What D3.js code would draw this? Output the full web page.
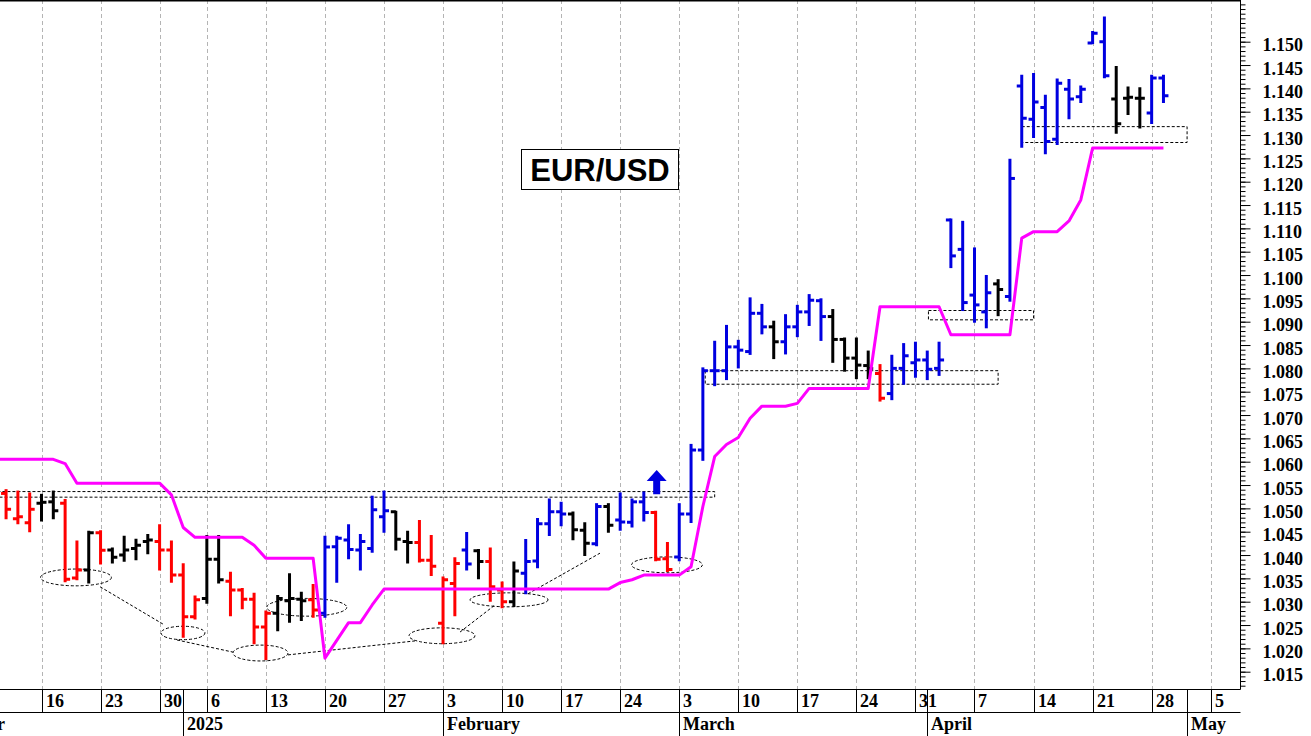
<!DOCTYPE html>
<html>
<head>
<meta charset="utf-8">
<style>
body { margin: 0; background: #fff; }
#chart { width: 1311px; height: 736px; }
</style>
<script src="https://cdnjs.cloudflare.com/ajax/libs/d3/7.8.5/d3.min.js"></script>
</head>
<body>
<div id="chart"></div>
<script>
// bars are trading days, index 0 = Mon 16 Dec 2024 (1 Jan skipped)
var firstBar = -3;

var opens = [1.0532, 1.0478, 1.0469,
  1.0511, 1.0514, 1.0511, 1.0351, 1.0368, 1.0448, 1.0411, 1.0400, 1.0414, 1.0429,
  1.0429, 1.0411, 1.0357, 1.0268, 1.0307, 1.0391, 1.0344, 1.0325, 1.0305, 1.0246,
  1.0275, 1.0302, 1.0305, 1.0304, 1.0275, 1.0418, 1.0432, 1.0411, 1.0414, 1.0482,
  1.0493, 1.0429, 1.0427, 1.0389, 1.0254, 1.0339, 1.0411, 1.0409, 1.0386, 1.0325,
  1.0300, 1.0361, 1.0387, 1.0467, 1.0493, 1.0488, 1.0453, 1.0424, 1.0504, 1.0475,
  1.0470, 1.0514, 1.0491, 1.0392, 1.0396, 1.0488, 1.0625, 1.0795, 1.0795, 1.0846,
  1.0836, 1.0918, 1.0889, 1.0857, 1.0889, 1.0921, 1.0945, 1.0911, 1.0862, 1.0822,
  1.0806, 1.0789, 1.0746, 1.0800, 1.0812, 1.0818, 1.0800, 1.1118, 1.1055, 1.0957,
  1.0921, 1.0981, 1.0954, 1.1405, 1.1334, 1.1359, 1.1291, 1.1398, 1.1382, 1.1497,
  1.1500, 1.1377, 1.1379, 1.1379, 1.1347, 1.1422];

var highs = [1.0539, 1.0536, 1.0532,
  1.0529, 1.0536, 1.0518, 1.0429, 1.0450, 1.0451, 1.0414, 1.0439, 1.0433, 1.0443,
  1.0464, 1.0429, 1.0380, 1.0311, 1.0441, 1.0441, 1.0362, 1.0327, 1.0317, 1.0279,
  1.0312, 1.0359, 1.0319, 1.0336, 1.0439, 1.0439, 1.0464, 1.0443, 1.0525, 1.0536,
  1.0493, 1.0450, 1.0473, 1.0441, 1.0352, 1.0393, 1.0447, 1.0411, 1.0414, 1.0341,
  1.0384, 1.0432, 1.0477, 1.0519, 1.0512, 1.0491, 1.0468, 1.0509, 1.0509, 1.0532,
  1.0519, 1.0534, 1.0493, 1.0426, 1.0509, 1.0636, 1.0800, 1.0857, 1.0891, 1.0859,
  1.0950, 1.0936, 1.0900, 1.0914, 1.0934, 1.0957, 1.0948, 1.0925, 1.0864, 1.0864,
  1.0836, 1.0807, 1.0827, 1.0852, 1.0855, 1.0836, 1.0855, 1.1119, 1.1114, 1.1057,
  1.0998, 1.0989, 1.1247, 1.1427, 1.1431, 1.1384, 1.1419, 1.1418, 1.1404, 1.1521,
  1.1552, 1.1446, 1.1402, 1.1400, 1.1427, 1.1427];

var lows = [1.0479, 1.0468, 1.0451,
  1.0474, 1.0479, 1.0344, 1.0348, 1.0341, 1.0382, 1.0384, 1.0388, 1.0391, 1.0404,
  1.0369, 1.0343, 1.0225, 1.0264, 1.0298, 1.0341, 1.0271, 1.0286, 1.0211, 1.0177,
  1.0239, 1.0257, 1.0261, 1.0268, 1.0268, 1.0343, 1.0393, 1.0369, 1.0407, 1.0450,
  1.0412, 1.0384, 1.0386, 1.0357, 1.0211, 1.0271, 1.0369, 1.0350, 1.0302, 1.0288,
  1.0291, 1.0318, 1.0374, 1.0443, 1.0464, 1.0434, 1.0400, 1.0421, 1.0450, 1.0454,
  1.0461, 1.0474, 1.0389, 1.0366, 1.0389, 1.0471, 1.0604, 1.0764, 1.0777, 1.0802,
  1.0831, 1.0875, 1.0822, 1.0832, 1.0869, 1.0893, 1.0861, 1.0814, 1.0795, 1.0779,
  1.0779, 1.0731, 1.0734, 1.0767, 1.0782, 1.0777, 1.0786, 1.1017, 1.0925, 1.0900,
  1.0888, 1.0914, 1.0945, 1.1275, 1.1296, 1.1261, 1.1281, 1.1336, 1.1371, 1.1497,
  1.1424, 1.1305, 1.1345, 1.1316, 1.1326, 1.1371];

var closes = [1.0498, 1.0482, 1.0498,
  1.0513, 1.0495, 1.0348, 1.0368, 1.0448, 1.0410, 1.0395, 1.0411, 1.0421, 1.0432,
  1.0411, 1.0357, 1.0268, 1.0304, 1.0391, 1.0347, 1.0325, 1.0305, 1.0246, 1.0275,
  1.0307, 1.0307, 1.0302, 1.0282, 1.0417, 1.0436, 1.0412, 1.0429, 1.0497, 1.0495,
  1.0434, 1.0427, 1.0389, 1.0376, 1.0347, 1.0382, 1.0381, 1.0386, 1.0332, 1.0300,
  1.0366, 1.0386, 1.0467, 1.0493, 1.0488, 1.0454, 1.0425, 1.0504, 1.0464, 1.0471,
  1.0514, 1.0491, 1.0391, 1.0369, 1.0488, 1.0625, 1.0795, 1.0795, 1.0846, 1.0839,
  1.0918, 1.0889, 1.0857, 1.0889, 1.0921, 1.0946, 1.0911, 1.0862, 1.0822, 1.0807,
  1.0800, 1.0736, 1.0800, 1.0827, 1.0818, 1.0798, 1.0818, 1.1041, 1.0941, 1.0936,
  1.0962, 1.0969, 1.1207, 1.1336, 1.1371, 1.1286, 1.1411, 1.1377, 1.1398, 1.1518,
  1.1427, 1.1324, 1.1381, 1.1379, 1.1422, 1.1384];

// d = down, n = neutral, u = up
var signal = ("dddnnddndnnnnddddnnddddnnnduuuuuunnddddunddnuuuunnunuuudd" +
  "uuuuuuuunuuuunnnnduuuuuuuuunuuuuuuuuunnnuu").split("");

// magenta trailing line, one value per bar, starting one bar before firstBar
var stopFirst = -4;
var stopLine = [1.0605, 1.0605, 1.0605, 1.0605,
  1.0605, 1.0605, 1.0596, 1.0554, 1.0554, 1.0554, 1.0554, 1.0554, 1.0554, 1.0554,
  1.0554, 1.0529, 1.0459, 1.0438, 1.0438, 1.0438, 1.0438, 1.0438, 1.0421, 1.0393,
  1.0393, 1.0393, 1.0393, 1.0393, 1.0179, 1.0217, 1.0255, 1.0255, 1.0293, 1.0327,
  1.0327, 1.0327, 1.0327, 1.0327, 1.0327, 1.0327, 1.0327, 1.0327, 1.0327, 1.0327,
  1.0327, 1.0327, 1.0327, 1.0327, 1.0327, 1.0327, 1.0327, 1.0327, 1.0327, 1.0341,
  1.0347, 1.0357, 1.0357, 1.0357, 1.0357, 1.0375, 1.0504, 1.0611, 1.0637, 1.0652,
  1.0693, 1.0719, 1.0719, 1.0719, 1.0725, 1.0757, 1.0757, 1.0757, 1.0757, 1.0757,
  1.0757, 1.0932, 1.0932, 1.0932, 1.0932, 1.0932, 1.0932, 1.0872, 1.0872, 1.0872,
  1.0872, 1.0872, 1.0872, 1.1079, 1.1093, 1.1093, 1.1093, 1.1116, 1.1161, 1.1272,
  1.1272, 1.1272, 1.1272, 1.1272, 1.1272, 1.1272];

// date axis
var weekIdx = [0, 5, 10, 14, 19, 24, 29, 34, 39, 44, 49, 54, 59, 64, 69, 74, 79, 84, 89, 94, 99];
var weekLabels = ["16", "23", "30", "6", "13", "20", "27", "3", "10", "17", "24", "3", "10", "17", "24", "31", "7", "14", "21", "28", "5"];
var monthIdx = [-10, 12, 34, 54, 75, 97];
var monthLabels = ["December", "2025", "February", "March", "April", "May"];

// annotations in bar index / price units
var boxes = [
  { i0: -5, i1: 57, p0: 1.0524, p1: 1.0536 },
  { i0: 56.2, i1: 81, p0: 1.0766, p1: 1.0795 },
  { i0: 75.1, i1: 84, p0: 1.0904, p1: 1.0924 },
  { i0: 83, i1: 97, p0: 1.1284, p1: 1.1318 }
];
var lowRings = [
  { i: 2.92, p: 1.0352, di: 3.0, dp: 0.0018 },
  { i: 11.98, p: 1.0233, di: 1.86, dp: 0.00144 },
  { i: 18.54, p: 1.0190, di: 2.33, dp: 0.0017 },
  { i: 22.46, p: 1.0288, di: 3.39, dp: 0.0019 },
  { i: 33.91, p: 1.0227, di: 2.79, dp: 0.0017 },
  { i: 39.59, p: 1.0304, di: 3.3, dp: 0.0015 },
  { i: 52.96, p: 1.0379, di: 3.0, dp: 0.0017 }
];
var lowLinks = [
  [4.96, 1.0332, 10.29, 1.0252],
  [11.47, 1.0218, 16.21, 1.0192],
  [20.87, 1.0186, 31.63, 1.0216],
  [35.44, 1.0235, 38.40, 1.0293],
  [41.19, 1.0317, 47.29, 1.0404]
];
var arrowBar = 52.09, arrowTop = 1.0582, arrowBase = 1.0530;

var width = 1311, height = 736;
var plotRight = 1240.5, plotBottom = 689.5, rowBottom = 712.5;

var svg = d3.select('#chart').append('svg')
    .attr('width', width)
    .attr('height', height);

var x = d3.scaleLinear().domain([0, 99]).range([41.5, 1210.7]);
var y = d3.scaleLinear().domain([1.015, 1.150]).range([671.7, 41.7]);
var colour = d3.scaleOrdinal().domain(['d', 'n', 'u']).range(['#ff0000', '#000000', '#0000e0']);

var bars = opens.map(function(o, k) {
    return { i: k + firstBar, o: o, h: highs[k], l: lows[k], c: closes[k], s: signal[k] };
});
var stops = stopLine.map(function(v, k) {
    return { i: k + stopFirst, v: v };
});

svg.append('defs').append('clipPath').attr('id', 'plotClip')
    .append('rect').attr('x', 0).attr('y', 0).attr('width', plotRight).attr('height', plotBottom);

var plot = svg.append('g').attr('clip-path', 'url(#plotClip)');

/** vertical week grid */
plot.selectAll('.grid')
    .data(weekIdx)
    .enter()
    .append('line')
    .attr('x1', function(d) { return Math.round(x(d)) + 0.5; })
    .attr('x2', function(d) { return Math.round(x(d)) + 0.5; })
    .attr('y1', 0)
    .attr('y2', plotBottom)
    .attr('stroke', '#b4b4b4')
    .attr('stroke-dasharray', '4,3');

/** dashed annotations */
var notes = plot.append('g')
    .attr('fill', 'none')
    .attr('stroke', '#000')
    .attr('stroke-width', 1)
    .attr('stroke-dasharray', '3,2');

notes.selectAll('rect')
    .data(boxes)
    .enter()
    .append('rect')
    .attr('x', function(d) { return x(d.i0); })
    .attr('y', function(d) { return y(d.p1); })
    .attr('width', function(d) { return x(d.i1) - x(d.i0); })
    .attr('height', function(d) { return y(d.p0) - y(d.p1); });

notes.selectAll('ellipse')
    .data(lowRings)
    .enter()
    .append('ellipse')
    .attr('cx', function(d) { return x(d.i); })
    .attr('cy', function(d) { return y(d.p); })
    .attr('rx', function(d) { return x(d.i + d.di) - x(d.i); })
    .attr('ry', function(d) { return y(d.p - d.dp) - y(d.p); });

notes.selectAll('line')
    .data(lowLinks)
    .enter()
    .append('line')
    .attr('x1', function(d) { return x(d[0]); })
    .attr('y1', function(d) { return y(d[1]); })
    .attr('x2', function(d) { return x(d[2]); })
    .attr('y2', function(d) { return y(d[3]); });

/** OHLC bars */
var barG = plot.selectAll('.bar')
    .data(bars)
    .enter()
    .append('g')
    .attr('stroke', function(d) { return colour(d.s); })
    .attr('stroke-width', 3);

barG.append('line')
    .attr('x1', function(d) { return x(d.i); })
    .attr('x2', function(d) { return x(d.i); })
    .attr('y1', function(d) { return y(d.h) - 1; })
    .attr('y2', function(d) { return y(d.l) + 1; });
barG.append('line')
    .attr('x1', function(d) { return x(d.i) - 5; })
    .attr('x2', function(d) { return x(d.i); })
    .attr('y1', function(d) { return y(d.o); })
    .attr('y2', function(d) { return y(d.o); });
barG.append('line')
    .attr('x1', function(d) { return x(d.i); })
    .attr('x2', function(d) { return x(d.i) + 5; })
    .attr('y1', function(d) { return y(d.c); })
    .attr('y2', function(d) { return y(d.c); });

/** magenta trailing line */
var stopPath = d3.line()
    .x(function(d) { return x(d.i); })
    .y(function(d) { return y(d.v); });

plot.append('path')
    .datum(stops)
    .attr('d', stopPath)
    .attr('fill', 'none')
    .attr('stroke', '#ff00ff')
    .attr('stroke-width', 3)
    .attr('stroke-linejoin', 'round');

/** breakout arrow */
var ax = x(arrowBar), at = y(arrowTop), ab = y(arrowBase);
plot.append('path')
    .attr('d', 'M' + ax + ',' + at + 'L' + (ax + 10) + ',' + (at + 11) + 'L' + (ax + 3.5) + ',' + (at + 11) +
        'L' + (ax + 3.5) + ',' + ab + 'L' + (ax - 3.5) + ',' + ab + 'L' + (ax - 3.5) + ',' + (at + 11) +
        'L' + (ax - 10) + ',' + (at + 11) + 'Z')
    .attr('fill', '#0000e0');

/** title box */
svg.append('rect')
    .attr('x', 521.5).attr('y', 149.5)
    .attr('width', 157).attr('height', 40)
    .attr('fill', '#fff').attr('stroke', '#000');
svg.append('text')
    .attr('x', 600).attr('y', 181)
    .attr('text-anchor', 'middle')
    .style('font-family', '"Liberation Sans", Arial, sans-serif')
    .style('font-weight', 'bold')
    .style('font-size', '31px')
    .text('EUR/USD');

/** frame */
svg.append('line').attr('x1', 0).attr('x2', plotRight).attr('y1', 0.5).attr('y2', 0.5)
    .attr('stroke', '#000').attr('stroke-width', 2);
svg.append('line').attr('x1', plotRight).attr('x2', plotRight).attr('y1', 0).attr('y2', plotBottom)
    .attr('stroke', '#000');

/** price axis */
var serif = '"Liberation Serif", "Times New Roman", serif';
var minor = d3.axisRight(y)
    .tickValues(d3.range(1012, 1159).map(function(d) { return d / 1000; }))
    .tickSize(5)
    .tickFormat('');
var major = d3.axisRight(y)
    .tickValues(d3.range(1015, 1151, 5).map(function(d) { return d / 1000; }))
    .tickSize(10)
    .tickPadding(12)
    .tickFormat(d3.format('.3f'));

svg.append('g').attr('transform', 'translate(' + plotRight + ',0)').call(minor)
    .call(function(g) { g.select('.domain').remove(); });
svg.append('g').attr('transform', 'translate(' + plotRight + ',0)').call(major)
    .call(function(g) {
        g.select('.domain').remove();
        g.selectAll('text')
            .attr('dy', '0.5em')
            .attr('fill', '#000')
            .style('font-family', serif)
            .style('font-weight', 'bold')
            .style('font-size', '18px');
    });

/** date axis */
var dateG = svg.append('g').attr('stroke', '#000');
dateG.append('line').attr('x1', 0).attr('x2', plotRight).attr('y1', plotBottom).attr('y2', plotBottom);
dateG.append('line').attr('x1', 0).attr('x2', plotRight).attr('y1', rowBottom).attr('y2', rowBottom);

dateG.selectAll('.wk')
    .data(weekIdx)
    .enter()
    .append('line')
    .attr('x1', function(d) { return Math.round(x(d)) + 0.5; })
    .attr('x2', function(d) { return Math.round(x(d)) + 0.5; })
    .attr('y1', plotBottom)
    .attr('y2', rowBottom);

dateG.selectAll('.mo')
    .data(monthIdx)
    .enter()
    .append('line')
    .attr('x1', function(d) { return Math.round(x(d)) + 0.5; })
    .attr('x2', function(d) { return Math.round(x(d)) + 0.5; })
    .attr('y1', plotBottom)
    .attr('y2', height);

var labelG = svg.append('g')
    .style('font-family', serif)
    .style('font-weight', 'bold')
    .style('font-size', '18px');

labelG.selectAll('.wkText')
    .data(weekIdx)
    .enter()
    .append('text')
    .attr('x', function(d) { return Math.round(x(d)) + 4; })
    .attr('y', 707)
    .text(function(d, i) { return weekLabels[i]; });

labelG.selectAll('.moText')
    .data(monthIdx)
    .enter()
    .append('text')
    .attr('x', function(d) { return Math.round(x(d)) + 4; })
    .attr('y', 730)
    .text(function(d, i) { return monthLabels[i]; });
</script>
</body>
</html>
